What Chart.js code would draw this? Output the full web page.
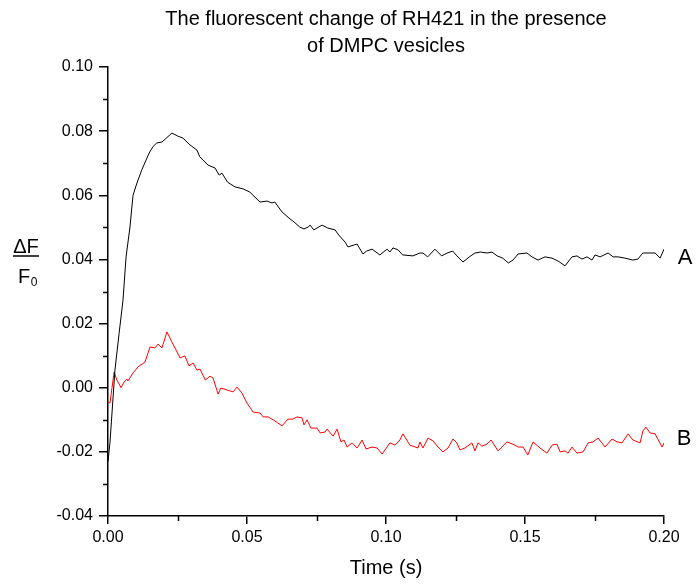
<!DOCTYPE html>
<html>
<head>
<meta charset="utf-8">
<script src="https://cdn.jsdelivr.net/npm/chart.js@4.4.1/dist/chart.umd.min.js"></script>
<style>
  html, body { margin: 0; padding: 0; background: #fff; }
  #wrap { width: 696px; height: 584px; }
</style>
</head>
<body>
<div id="wrap"><canvas id="chart" width="696" height="584"></canvas></div>
<script>
// Datos
const tiempoA = [0, 0.0007, 0.0025, 0.004, 0.0054, 0.0065, 0.0079, 0.009, 0.0104, 0.0122, 0.014, 0.015, 0.0162, 0.0175, 0.0194, 0.0212, 0.023, 0.025, 0.027, 0.0295, 0.032, 0.033, 0.036, 0.0385, 0.040, 0.041, 0.043, 0.0457, 0.0486, 0.051, 0.0536, 0.0547, 0.0572, 0.059, 0.060, 0.0626, 0.0655, 0.0665, 0.069, 0.0705, 0.072, 0.0727, 0.074, 0.077, 0.079, 0.0817, 0.083, 0.0853, 0.0863, 0.0896, 0.0917, 0.093, 0.095, 0.0978, 0.1004, 0.1014, 0.1025, 0.1043, 0.106, 0.1097, 0.1122, 0.1133, 0.115, 0.1176, 0.120, 0.122, 0.124, 0.1255, 0.1277, 0.130, 0.132, 0.134, 0.1364, 0.1381, 0.140, 0.142, 0.144, 0.1457, 0.1475, 0.1507, 0.1525, 0.1547, 0.1572, 0.1597, 0.1619, 0.1644, 0.1669, 0.1687, 0.1705, 0.1723, 0.1741, 0.1752, 0.177, 0.1799, 0.1817, 0.1835, 0.186, 0.1888, 0.1906, 0.1924, 0.195, 0.1968, 0.1986, 0.2];
const serieA = [-0.023, -0.0172, 0.0055, 0.017, 0.0273, 0.0408, 0.0501, 0.060, 0.0638, 0.068, 0.0716, 0.0735, 0.0752, 0.0763, 0.0766, 0.078, 0.0794, 0.0785, 0.0778, 0.0757, 0.0741, 0.072, 0.0694, 0.0685, 0.0663, 0.0669, 0.0641, 0.0626, 0.062, 0.061, 0.0588, 0.0579, 0.0582, 0.0576, 0.0579, 0.0548, 0.0526, 0.052, 0.0501, 0.0495, 0.0501, 0.0507, 0.0492, 0.0507, 0.0498, 0.0492, 0.0476, 0.0454, 0.0439, 0.0448, 0.0417, 0.0426, 0.0432, 0.0414, 0.0432, 0.0423, 0.0436, 0.043, 0.0414, 0.0411, 0.042, 0.042, 0.0408, 0.0432, 0.0411, 0.042, 0.0426, 0.0411, 0.0392, 0.0408, 0.042, 0.0423, 0.042, 0.0423, 0.0411, 0.0404, 0.0389, 0.0398, 0.0417, 0.042, 0.0408, 0.0398, 0.0408, 0.0404, 0.0395, 0.038, 0.0408, 0.0411, 0.0401, 0.0408, 0.0398, 0.0414, 0.0408, 0.042, 0.0408, 0.0408, 0.0404, 0.0398, 0.0401, 0.042, 0.042, 0.042, 0.0404, 0.0432];

const tiempoB = [0, 0.0007, 0.0022, 0.0032, 0.0047, 0.0058, 0.0068, 0.0072, 0.009, 0.0108, 0.0133, 0.0151, 0.0169, 0.018, 0.0194, 0.0212, 0.023, 0.0241, 0.0259, 0.0277, 0.0291, 0.0306, 0.032, 0.0331, 0.035, 0.0367, 0.0378, 0.0396, 0.0406, 0.0428, 0.045, 0.0464, 0.0482, 0.05, 0.0522, 0.0547, 0.0558, 0.0576, 0.0594, 0.0626, 0.0647, 0.0665, 0.068, 0.0698, 0.0705, 0.0716, 0.073, 0.0752, 0.0763, 0.0781, 0.0788, 0.081, 0.0824, 0.0838, 0.0849, 0.086, 0.0878, 0.0896, 0.0914, 0.0928, 0.095, 0.0968, 0.0986, 0.1014, 0.1032, 0.105, 0.1061, 0.1086, 0.1115, 0.1122, 0.1133, 0.1151, 0.1169, 0.1187, 0.1205, 0.1223, 0.1241, 0.1255, 0.1266, 0.1284, 0.1309, 0.132, 0.1331, 0.1345, 0.1363, 0.1378, 0.1403, 0.1435, 0.1464, 0.1475, 0.1493, 0.151, 0.1529, 0.1554, 0.1579, 0.1597, 0.1615, 0.1626, 0.1644, 0.1655, 0.1669, 0.1687, 0.1709, 0.1727, 0.1745, 0.1763, 0.1788, 0.1813, 0.1831, 0.1849, 0.1871, 0.1888, 0.1914, 0.1924, 0.1935, 0.195, 0.1968, 0.1993, 0.2];
const serieB = [-0.0045, -0.0048, 0.0049, 0.0024, 0.0, 0.0018, 0.0027, 0.0021, 0.0046, 0.0065, 0.008, 0.0127, 0.0124, 0.0136, 0.0124, 0.0174, 0.0142, 0.0124, 0.0093, 0.0099, 0.0068, 0.0077, 0.0055, 0.0058, 0.0024, 0.0036, 0.003, -0.002, -0.0001, -0.0007, -0.0013, 0.0002, -0.0017, -0.0048, -0.0076, -0.0079, -0.0091, -0.0091, -0.01, -0.0119, -0.0098, -0.0098, -0.0091, -0.0094, -0.0116, -0.01, -0.0126, -0.0126, -0.0141, -0.0138, -0.0129, -0.0151, -0.0129, -0.0169, -0.0163, -0.0185, -0.0172, -0.0188, -0.0163, -0.0191, -0.0185, -0.0188, -0.0207, -0.0172, -0.0179, -0.0163, -0.0144, -0.0179, -0.0188, -0.0169, -0.0188, -0.0157, -0.0166, -0.0185, -0.02, -0.0188, -0.016, -0.0172, -0.0194, -0.0188, -0.0172, -0.0197, -0.0172, -0.0182, -0.0176, -0.0163, -0.0197, -0.0169, -0.0179, -0.0185, -0.0185, -0.021, -0.0169, -0.0188, -0.0204, -0.0179, -0.0176, -0.02, -0.0197, -0.0204, -0.0185, -0.0204, -0.02, -0.0172, -0.0169, -0.0157, -0.0185, -0.016, -0.0169, -0.0172, -0.0144, -0.0163, -0.0172, -0.0135, -0.0123, -0.0141, -0.0144, -0.0185, -0.0172];

const etiquetas = ['A', 'B'];
const tituloGrafico = ['The fluorescent change of RH421 in the presence', 'of DMPC vesicles'];
const ticksMenoresX = [0.025, 0.075, 0.125, 0.175];
const ticksMenoresY = [-0.03, -0.01, 0.01, 0.03, 0.05, 0.07, 0.09];

const fuente = "'Liberation Sans', Arial, Helvetica, sans-serif";

function puntos(xs, ys) {
  return xs.map((x, i) => ({ x: x, y: ys[i] }));
}

// Ticks menores, rotulo del eje Y y etiquetas A / B
const extras = {
  id: 'extras',
  afterDraw(chart) {
    const ctx = chart.ctx;
    const sx = chart.scales.x;
    const sy = chart.scales.y;
    const area = chart.chartArea;
    ctx.save();
    ctx.strokeStyle = '#000';
    ctx.lineWidth = 1.5;
    ticksMenoresX.forEach(v => {
      const px = Math.round(sx.getPixelForValue(v)) + 0.5;
      ctx.beginPath();
      ctx.moveTo(px, area.bottom);
      ctx.lineTo(px, area.bottom + 5);
      ctx.stroke();
    });
    ticksMenoresY.forEach(v => {
      const py = Math.round(sy.getPixelForValue(v)) + 0.5;
      ctx.beginPath();
      ctx.moveTo(area.left - 5, py);
      ctx.lineTo(area.left, py);
      ctx.stroke();
    });

    // Delta F / F0
    ctx.fillStyle = '#000';
    ctx.textAlign = 'center';
    ctx.textBaseline = 'alphabetic';
    ctx.font = '20px ' + fuente;
    ctx.fillText('\u0394F', 26, 253);
    ctx.lineWidth = 1.5;
    ctx.beginPath();
    ctx.moveTo(13, 256);
    ctx.lineTo(39, 256);
    ctx.stroke();
    ctx.fillText('F', 24, 283);
    ctx.font = '12px ' + fuente;
    ctx.fillText('0', 34, 286);

    // Etiquetas de las series
    ctx.font = '22px ' + fuente;
    ctx.textAlign = 'center';
    ctx.textBaseline = 'middle';
    ctx.fillText(etiquetas[0], 685, sy.getPixelForValue(0.0405));
    ctx.fillText(etiquetas[1], 684, sy.getPixelForValue(-0.0160));
    ctx.restore();
  }
};

new Chart(document.getElementById('chart'), {
  type: 'line',
  data: {
    datasets: [
      { label: etiquetas[0], data: puntos(tiempoA, serieA), borderColor: '#000', borderWidth: 1, pointRadius: 0, tension: 0, fill: false },
      { label: etiquetas[1], data: puntos(tiempoB, serieB), borderColor: '#ff0000', borderWidth: 1, pointRadius: 0, tension: 0, fill: false }
    ]
  },
  options: {
    responsive: false,
    animation: false,
    layout: { padding: { left: 0, right: 32, top: 0, bottom: 0 } },
    plugins: {
      legend: { display: false },
      tooltip: { enabled: false },
      title: {
        display: true,
        fullSize: false,
        text: tituloGrafico,
        color: '#000',
        font: { family: fuente, size: 20, weight: 'normal', lineHeight: 1.35 },
        padding: { top: 6, bottom: 7 }
      }
    },
    scales: {
      x: {
        type: 'linear',
        min: 0,
        max: 0.2,
        afterFit(scale) { scale.height = 68; },
        border: { display: true, color: '#000', width: 1.5 },
        grid: { drawOnChartArea: false, drawTicks: true, tickLength: 8, color: '#000', lineWidth: 1.5 },
        ticks: {
          stepSize: 0.05,
          color: '#000',
          padding: 4,
          maxRotation: 0,
          font: { family: fuente, size: 16 },
          callback: v => v.toFixed(2)
        },
        title: {
          display: true,
          text: 'Time (s)',
          color: '#000',
          font: { family: fuente, size: 20 },
          padding: { top: 0, bottom: 4 }
        }
      },
      y: {
        type: 'linear',
        min: -0.04,
        max: 0.10,
        afterFit(scale) { scale.width = 108; },
        border: { display: true, color: '#000', width: 1.5 },
        grid: { drawOnChartArea: false, drawTicks: true, tickLength: 9, color: '#000', lineWidth: 1.5 },
        ticks: {
          stepSize: 0.02,
          color: '#000',
          padding: 6,
          font: { family: fuente, size: 16 },
          callback: v => v.toFixed(2)
        }
      }
    }
  },
  plugins: [extras]
});
</script>
</body>
</html>
